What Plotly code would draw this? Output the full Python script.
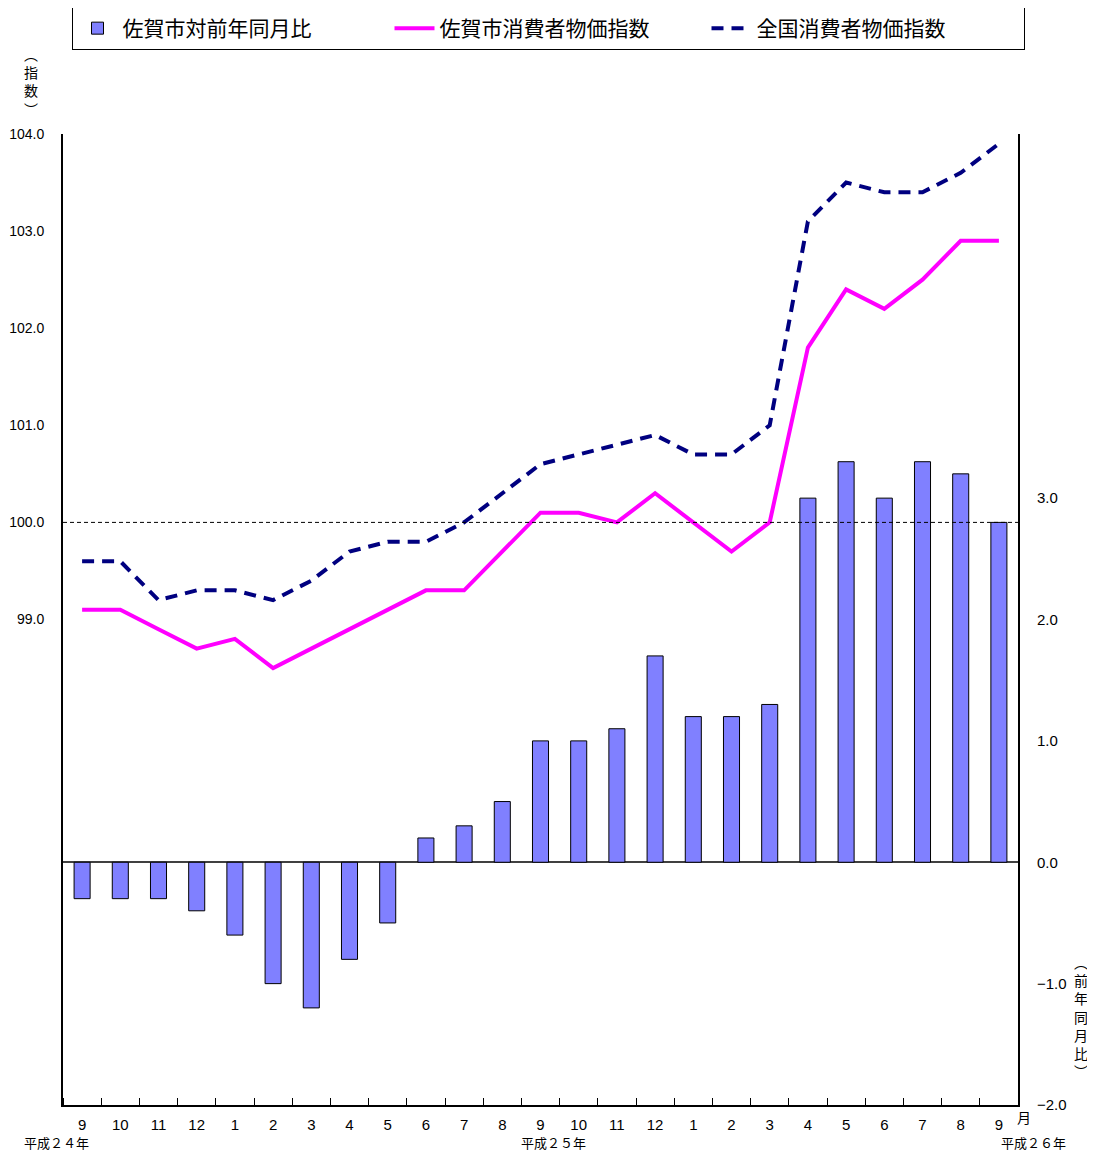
import plotly.graph_objects as go

months = ["9", "10", "11", "12", "1", "2", "3", "4", "5", "6", "7", "8",
          "9", "10", "11", "12", "1", "2", "3", "4", "5", "6", "7", "8", "9"]
yoy = [-0.3, -0.3, -0.3, -0.4, -0.6, -1.0, -1.2, -0.8, -0.5, 0.2, 0.3, 0.5,
       1.0, 1.0, 1.1, 1.7, 1.2, 1.2, 1.3, 3.0, 3.3, 3.0, 3.3, 3.2, 2.8]
saga_cpi = [99.1, 99.1, 98.9, 98.7, 98.8, 98.5, 98.7, 98.9, 99.1, 99.3, 99.3, 99.7,
            100.1, 100.1, 100.0, 100.3, 100.0, 99.7, 100.0, 101.8, 102.4, 102.2, 102.5, 102.9, 102.9]
national_cpi = [99.6, 99.6, 99.2, 99.3, 99.3, 99.2, 99.4, 99.7, 99.8, 99.8, 100.0, 100.3,
                100.6, 100.7, 100.8, 100.9, 100.7, 100.7, 101.0, 103.1, 103.5, 103.4, 103.4, 103.6, 103.9]
left_ticks = [99.0, 100.0, 101.0, 102.0, 103.0, 104.0]
right_ticks = [-2.0, -1.0, 0.0, 1.0, 2.0, 3.0]
year_labels = ["平成２４年", "平成２５年", "平成２６年"]

x = list(range(len(months)))

# the page body has an 8px default margin; work in screen pixels
OFF = 8
W, H = 1095 - OFF, 1156 - OFF
L, R, T, B = 63 - OFF, 1018 - OFF, 134 - OFF, 1105 - OFF
PW, PH = R - L, B - T


def px2x(px):
    return (px - OFF - L) / PW


def py2y(py):
    return (B - (py - OFF)) / PH


jp = "Noto Sans CJK JP"
num = "Liberation Sans"

fig = go.Figure()
fig.add_trace(go.Bar(
    x=x, y=yoy, yaxis="y2", name="佐賀市対前年同月比", width=0.42,
    marker=dict(color="#8080FF", line=dict(color="#000000", width=1)),
))
fig.add_trace(go.Scatter(
    x=x, y=saga_cpi, mode="lines", name="佐賀市消費者物価指数",
    line=dict(color="#FF00FF", width=4),
))
fig.add_trace(go.Scatter(
    x=x, y=national_cpi, mode="lines", name="全国消費者物価指数",
    line=dict(color="#000080", width=4, dash="12px,8px"),
))

fig.update_layout(
    width=W, height=H,
    margin=dict(l=L, r=W - R, t=T, b=H - B, pad=0, autoexpand=False),
    plot_bgcolor="white", paper_bgcolor="white",
    showlegend=True,
    legend=dict(
        orientation="h", xref="paper", yref="paper",
        x=px2x(548), xanchor="center", y=py2y(7), yanchor="top",
        bordercolor="#000000", borderwidth=1, bgcolor="white",
        font=dict(family=jp, size=21, color="#000000"),
        itemwidth=40, entrywidth=262, entrywidthmode="pixels",
        traceorder="normal",
    ),
    xaxis=dict(
        range=[-0.5, len(months) - 0.5], automargin=False,
        tickmode="array", tickvals=x, ticktext=months, ticks="",
        tickfont=dict(family=num, size=15, color="#000000"),
        showgrid=False, zeroline=False,
        showline=True, linecolor="#000000", linewidth=2,
        minor=dict(tick0=-0.5, dtick=1, ticks="inside", ticklen=7,
                   tickcolor="#000000", tickwidth=1, showgrid=False),
        ticklabelstandoff=5,
    ),
    yaxis=dict(
        range=[94, 104], tickmode="array", tickvals=left_ticks, automargin=False,
        ticktext=[f"{v:.1f}" for v in left_ticks],
        tickfont=dict(family=num, size=14, color="#000000"),
        showgrid=False, zeroline=False, ticks="",
        showline=True, linecolor="#000000", linewidth=2,
        ticklabelstandoff=14,
    ),
    yaxis2=dict(
        range=[-2, 6], overlaying="y", side="right", tickmode="array", automargin=False,
        tickvals=right_ticks,
        ticktext=[f"{v:.1f}".replace("-", "\u2212") for v in right_ticks],
        tickfont=dict(family=num, size=15, color="#000000"),
        showgrid=False, zeroline=True, zerolinecolor="#404040", zerolinewidth=1.5,
        ticks="", showline=True, linecolor="#000000", linewidth=2,
        ticklabelstandoff=14,
    ),
)

# dashed reference line at 100.0
fig.add_shape(type="line", xref="paper", yref="y", x0=0, x1=1, y0=100.0, y1=100.0,
              line=dict(color="#000000", width=1, dash="4px,3px"))

# axis titles
fig.add_annotation(xref="paper", yref="paper", x=px2x(31), y=py2y(82),
                   xanchor="center", yanchor="middle",
                   text="︵<br>指<br>数<br>︶", showarrow=False,
                   font=dict(family=jp, size=14, color="#000000"))
fig.add_annotation(xref="paper", yref="paper", x=px2x(1081), y=py2y(1016),
                   xanchor="center", yanchor="middle",
                   text="︵<br>前<br>年<br>同<br>月<br>比<br>︶", showarrow=False,
                   font=dict(family=jp, size=14, color="#000000"))
fig.add_annotation(xref="paper", yref="paper", x=px2x(1024), y=py2y(1117),
                   xanchor="center", yanchor="middle",
                   text="月", showarrow=False,
                   font=dict(family=jp, size=14, color="#000000"))

# year labels
for lbl, cx in zip(year_labels, [56, 553, 1033]):
    fig.add_annotation(xref="paper", yref="paper", x=px2x(cx), y=py2y(1142),
                       xanchor="center", yanchor="middle",
                       text=lbl, showarrow=False,
                       font=dict(family=jp, size=13, color="#000000"))

fig.write_html("out.html")
